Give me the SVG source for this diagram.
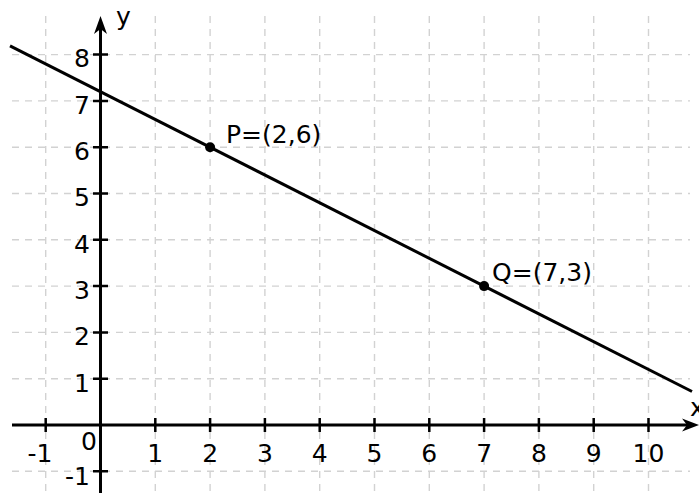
<svg xmlns="http://www.w3.org/2000/svg" width="699" height="493" viewBox="0 0 699 493">
<style>
.grid{stroke:#d2d2d2;stroke-width:1.4;stroke-dasharray:7,6;fill:none}
.axis{stroke:#000;stroke-width:3;fill:none}
.tick{stroke:#000;stroke-width:2.5}
.lbl{font-family:"DejaVu Sans",sans-serif;font-size:25px;fill:#000}
.xl{text-anchor:middle}
.yl{text-anchor:end}
</style>
<rect width="699" height="493" fill="#fff"/>
<g id="grid">
<path class="grid" d="M45.7 16V493M155.3 16V493M210.1 16V493M264.9 16V493M319.7 16V493M374.5 16V493M429.3 16V493M484.1 16V493M538.9 16V493M593.7 16V493M648.5 16V493"/>
<path class="grid" d="M12 471.3H690M12 378.7H690M12 332.4H690M12 286.1H690M12 239.8H690M12 193.5H690M12 147.2H690M12 100.9H690M12 54.6H690"/>
</g>
<g id="axes">
<line class="axis" x1="12" y1="425" x2="690" y2="425"/>
<path d="M699 425L682 418.5L687 425L682 431.5Z" fill="#000"/>
<line class="axis" x1="100.5" y1="493" x2="100.5" y2="25"/>
<path d="M100.5 16L94 34L100.5 29L107 34Z" fill="#000"/>
<path class="tick" d="M45.7 418V432M155.3 418V432M210.1 418V432M264.9 418V432M319.7 418V432M374.5 418V432M429.3 418V432M484.1 418V432M538.9 418V432M593.7 418V432M648.5 418V432"/>
<path class="tick" d="M93 471.3H108M93 378.7H108M93 332.4H108M93 286.1H108M93 239.8H108M93 193.5H108M93 147.2H108M93 100.9H108M93 54.6H108"/>
<text class="lbl" x="690" y="416">x</text>
<text class="lbl" x="116" y="25">y</text>
</g>
<g id="xlabels" class="lbl">
<text x="40" y="462" class="xl">-1</text>
<text x="89" y="450" class="xl">0</text>
<text x="155.3" y="462" class="xl">1</text>
<text x="210.1" y="462" class="xl">2</text>
<text x="264.9" y="462" class="xl">3</text>
<text x="319.7" y="462" class="xl">4</text>
<text x="374.5" y="462" class="xl">5</text>
<text x="429.3" y="462" class="xl">6</text>
<text x="484.1" y="462" class="xl">7</text>
<text x="538.9" y="462" class="xl">8</text>
<text x="593.7" y="462" class="xl">9</text>
<text x="648.5" y="462" class="xl">10</text>
</g>
<g id="ylabels" class="lbl">
<text x="90" y="485" class="yl">-1</text>
<text x="90" y="391.5" class="yl">1</text>
<text x="90" y="345.2" class="yl">2</text>
<text x="90" y="298.9" class="yl">3</text>
<text x="90" y="252.6" class="yl">4</text>
<text x="90" y="206.3" class="yl">5</text>
<text x="90" y="160" class="yl">6</text>
<text x="90" y="113.7" class="yl">7</text>
<text x="90" y="67.4" class="yl">8</text>
</g>
<g id="connectors">
<line x1="10" y1="45.8" x2="692" y2="391.5" stroke="#000" stroke-width="3"/>
</g>
<g id="P">
<circle cx="210.1" cy="147.2" r="5" fill="#000"/>
<text class="lbl" x="226" y="143">P=(2,6)</text>
</g>
<g id="Q">
<circle cx="484.1" cy="286.1" r="5" fill="#000"/>
<text class="lbl" x="492" y="281">Q=(7,3)</text>
</g>
</svg>
